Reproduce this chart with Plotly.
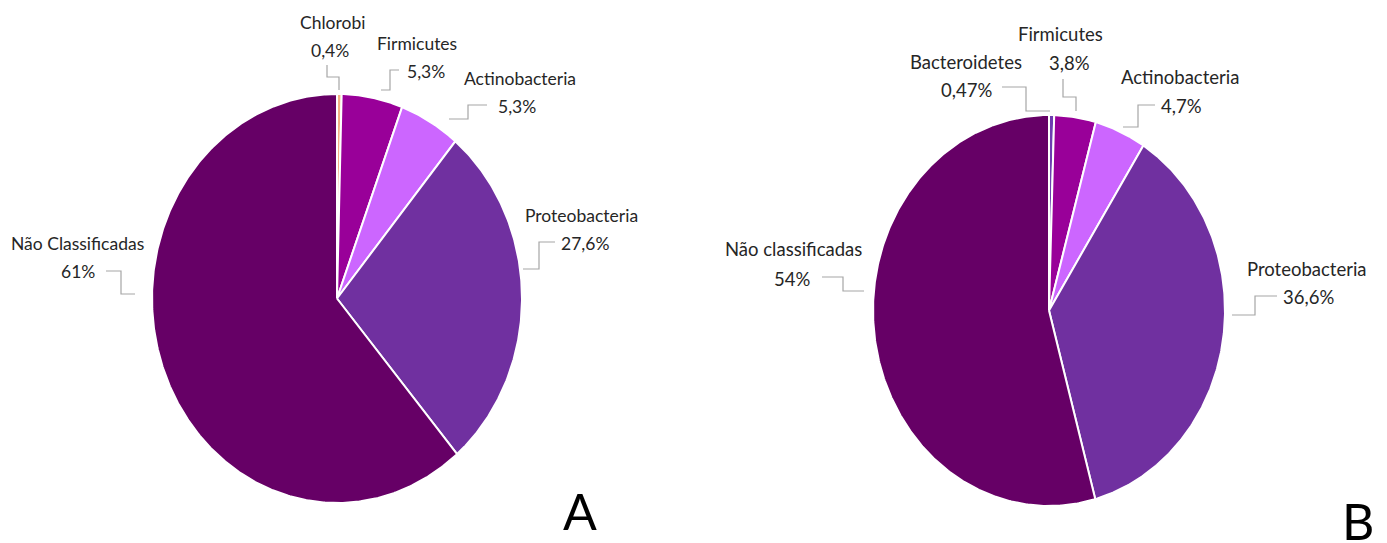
import numpy as np
import plotly.graph_objects as go

# Phylum composition, panel A
labels_a = ["Chlorobi", "Firmicutes", "Actinobacteria", "Proteobacteria", "Não Classificadas"]
values_a = [0.4, 5.3, 5.3, 27.6, 61.0]
text_a = ["0,4%", "5,3%", "5,3%", "27,6%", "61%"]

# Phylum composition, panel B
labels_b = ["Bacteroidetes", "Firmicutes", "Actinobacteria", "Proteobacteria", "Não classificadas"]
values_b = [0.47, 3.8, 4.7, 36.6, 54.0]
text_b = ["0,47%", "3,8%", "4,7%", "36,6%", "54%"]

colors_a = ["#F4B183", "#990099", "#CC66FF", "#7030A0", "#660066"]
colors_b = ["#6E3CB0", "#990099", "#CC66FF", "#7030A0", "#660066"]

W, H = 1387, 543
FONT = "Lato"
TEXT_COLOR = "#262626"
LEADER_COLOR = "#A6A6A6"

# Pie geometry in page pixels (centre x, centre y, radius x, radius y)
GEOM_A = (337, 298.5, 185, 204.5)
GEOM_B = (1049, 310.5, 176, 195.5)

# Label placement: (name x, name y, value x, value y, font size)
PLACE_A = [
    (332, 22, 330, 50, 17.5),
    (417, 43, 426, 71, 17.5),
    (520, 78, 517, 106, 17.5),
    (581, 215, 585, 243, 17.5),
    (77, 243, 78, 271, 17.5),
]
PLACE_B = [
    (966, 62, 966, 90, 18.5),
    (1060, 34, 1069, 63, 18.5),
    (1180, 77, 1181, 106, 18.5),
    (1307, 269, 1308, 297, 18.5),
    (793, 249, 792, 279, 18.5),
]

# Leader polylines
LEAD_A = [
    [(339, 90), (339, 77), (327, 77), (327, 65)],
    [(381, 90), (390, 90), (390, 70), (399, 70)],
    [(449, 119), (468, 119), (468, 105), (487, 105)],
    [(523, 269), (539, 269), (539, 242), (555, 242)],
    [(135, 294), (121, 294), (121, 271), (106, 271)],
]
LEAD_B = [
    [(1050, 111), (1026, 111), (1026, 87), (1002, 87)],
    [(1076, 111), (1076, 97), (1063, 97), (1063, 79)],
    [(1123, 127), (1138, 127), (1138, 105), (1155, 105)],
    [(1232, 315), (1255, 315), (1255, 296), (1277, 296)],
    [(864, 291), (843, 291), (843, 277), (822, 277)],
]


def slice_paths(values, geom):
    """Polygon outlines for each slice, clockwise from 12 o'clock."""
    cx, cy, rx, ry = geom
    total = float(sum(values))
    start = 0.0
    paths = []
    for v in values:
        span = v / total * 2 * np.pi
        n = max(4, int(np.degrees(span) * 2))
        th = np.linspace(start, start + span, n)
        xs = np.concatenate([[cx], cx + rx * np.sin(th), [cx]])
        ys = np.concatenate([[cy], cy - ry * np.cos(th), [cy]])
        paths.append((xs, ys))
        start += span
    return paths


fig = go.Figure()


def add_pie(labels, values, colors, geom):
    for name, (xs, ys), col in zip(labels, slice_paths(values, geom), colors):
        fig.add_trace(go.Scatter(
            x=xs, y=ys, mode="lines", fill="toself", fillcolor=col,
            line=dict(color="white", width=2), name=name,
            hoverinfo="name", showlegend=False,
        ))


def add_labels(labels, texts, place, leads):
    for name, txt, (nx, ny, vx, vy, fs), pts in zip(labels, texts, place, leads):
        fig.add_trace(go.Scatter(
            x=[p[0] for p in pts], y=[p[1] for p in pts], mode="lines",
            line=dict(color=LEADER_COLOR, width=1.2), hoverinfo="skip",
            showlegend=False,
        ))
        fig.add_annotation(x=nx, y=ny, text=name, showarrow=False,
                           font=dict(family=FONT, size=fs, color=TEXT_COLOR))
        fig.add_annotation(x=vx, y=vy, text=txt, showarrow=False,
                           font=dict(family=FONT, size=fs, color=TEXT_COLOR))


add_pie(labels_a, values_a, colors_a, GEOM_A)
add_pie(labels_b, values_b, colors_b, GEOM_B)
add_labels(labels_a, text_a, PLACE_A, LEAD_A)
add_labels(labels_b, text_b, PLACE_B, LEAD_B)

# Panel letters
fig.add_annotation(x=580, y=511, text="A", showarrow=False,
                   font=dict(family=FONT, size=50, color="black"))
fig.add_annotation(x=1358, y=521, text="B", showarrow=False,
                   font=dict(family=FONT, size=50, color="black"))

fig.update_layout(
    width=W, height=H,
    margin=dict(l=0, r=0, t=0, b=0),
    paper_bgcolor="white", plot_bgcolor="white",
    xaxis=dict(range=[0, W], visible=False, domain=[0, 1], fixedrange=True),
    yaxis=dict(range=[H, 0], visible=False, domain=[0, 1], fixedrange=True),
    showlegend=False,
)

fig.write_html("out.html")
